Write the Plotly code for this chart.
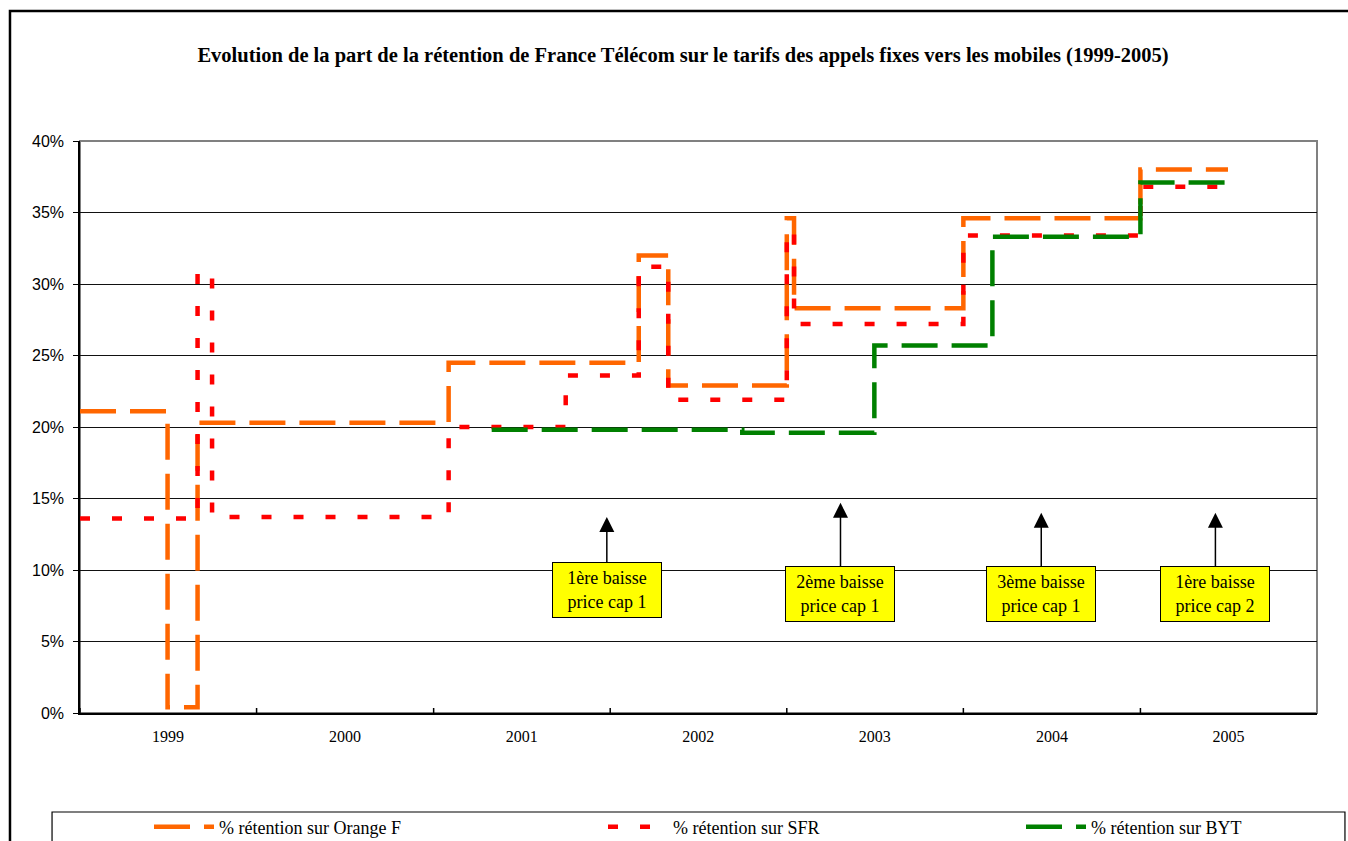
import plotly.graph_objects as go

# ---------------- data ----------------
orange_dates = ["1999-01-01", "1999-07-01", "1999-09-01", "2001-02-01", "2002-03-01",
                "2002-05-01", "2003-01-01", "2003-01-16", "2004-01-01", "2005-01-01", "2005-07-01"]
orange_vals = [21.1, 0.4, 20.3, 24.5, 32.0, 22.9, 34.6, 28.3, 34.6, 38.0, 38.0]

sfr_dates = ["1999-01-01", "1999-09-01", "1999-10-01", "2001-02-01", "2001-10-01", "2002-03-01",
             "2002-05-01", "2003-01-01", "2003-01-16", "2004-01-01", "2005-01-01", "2005-07-01"]
sfr_vals = [13.6, 30.8, 13.7, 20.0, 23.6, 31.2, 21.9, 33.7, 27.2, 33.4, 36.8, 36.8]

byt_dates = ["2001-05-01", "2002-10-01", "2003-07-01", "2004-03-01", "2005-01-01", "2005-07-01"]
byt_vals = [19.8, 19.6, 25.7, 33.3, 37.1, 37.1]

years = [1999, 2000, 2001, 2002, 2003, 2004, 2005]
y_ticks = [0, 5, 10, 15, 20, 25, 30, 35, 40]
y_ticktext = ["0%", "5%", "10%", "15%", "20%", "25%", "30%", "35%", "40%"]

ann_texts = ["1ère baisse<br>price cap 1", "2ème baisse<br>price cap 1",
             "3ème baisse<br>price cap 1", "1ère baisse<br>price cap 2"]
ann_dates = ["2001-12-25", "2003-04-22", "2004-06-10", "2005-06-05"]
ann_tip = [13.7, 14.7, 14.0, 14.0]
ann_ay = [73, 91, 81, 81]

SERIF = "Times New Roman, Liberation Serif, serif"
SANS = "Arial, Liberation Sans, sans-serif"

W, H = 1348, 841

fig = go.Figure()
fig.add_trace(go.Scatter(x=orange_dates, y=orange_vals, mode="lines", line_shape="hv",
                         name="% rétention sur Orange F", legend="legend",
                         line=dict(color="#FF6600", width=4.5, dash="36px,14px")))
fig.add_trace(go.Scatter(x=sfr_dates, y=sfr_vals, mode="lines", line_shape="hv",
                         name="% rétention sur SFR", legend="legend2",
                         line=dict(color="#FF0000", width=4.5, dash="10px,22px")))
fig.add_trace(go.Scatter(x=byt_dates, y=byt_vals, mode="lines", line_shape="hv",
                         name="% rétention sur BYT", legend="legend3",
                         line=dict(color="#008000", width=4.5, dash="36px,14px")))

shapes = []
# chart area border
shapes.append(dict(type="rect", xref="paper", yref="paper", x0=-0.0566, x1=1.2,
                   y0=-0.30, y1=1.2273, line=dict(color="black", width=2.5), layer="below"))
# legend box
shapes.append(dict(type="rect", xref="paper", yref="paper", x0=-0.0226, x1=1.0226,
                   y0=-0.30, y1=-0.1731, line=dict(color="black", width=1.2), layer="below"))
# plot area border (gray)
shapes.append(dict(type="rect", xref="paper", yref="paper", x0=0, x1=1, y0=0, y1=1,
                   line=dict(color="#808080", width=2), layer="below"))
# cross tick marks at year boundaries
for yv in years:
    shapes.append(dict(type="line", xref="x", yref="y", x0=f"{yv}-01-01", x1=f"{yv}-01-01",
                       ysizemode="pixel", yanchor=0, y0=-5, y1=5,
                       line=dict(color="black", width=1.5)))

annotations = []
for t, d, tip, ay in zip(ann_texts, ann_dates, ann_tip, ann_ay):
    annotations.append(dict(x=d, y=tip, xref="x", yref="y", text=t, showarrow=True,
                            ax=0, ay=ay, arrowhead=2, arrowsize=2.0, arrowwidth=1.5,
                            arrowcolor="black", bgcolor="#FFFF00", bordercolor="black",
                            borderwidth=1, borderpad=2, width=104, height=50,
                            font=dict(family=SERIF, size=18, color="black"), align="center"))

leg_common = dict(orientation="h", xanchor="left", yref="container",
                  y=1 - 827 / H, yanchor="middle",
                  itemwidth=60, bgcolor="rgba(0,0,0,0)",
                  font=dict(family=SERIF, size=18, color="black"))

fig.update_layout(
    width=W, height=H,
    margin=dict(l=80, r=31, t=141, b=128, autoexpand=False),
    paper_bgcolor="white", plot_bgcolor="white",
    title=dict(text="<b>Evolution de la part de la rétention de France Télécom sur le tarifs des appels fixes vers les mobiles (1999-2005)</b>",
               x=683 / W, xref="container", xanchor="center",
               y=1 - 55 / H, yref="container", yanchor="middle",
               font=dict(family=SERIF, size=20.5, color="black")),
    xaxis=dict(type="date", range=["1999-01-01", "2006-01-01"],
               tickvals=[f"{y}-07-02" for y in years], ticktext=[str(y) for y in years],
               ticks="", ticklabelstandoff=8, showgrid=False, zeroline=False,
               showline=True, linecolor="black", linewidth=2,
               tickfont=dict(family=SERIF, size=16, color="black")),
    yaxis=dict(range=[0, 40], tickvals=y_ticks, ticktext=y_ticktext,
               ticks="outside", ticklen=5, tickcolor="black", ticklabelstandoff=6,
               showgrid=True, gridcolor="#111111", gridwidth=1, zeroline=False,
               showline=True, linecolor="black", linewidth=1.5,
               tickfont=dict(family=SANS, size=16, color="black")),
    legend=dict(x=(154 - 5 - 80) / 1237, **leg_common),
    legend2=dict(x=(608 - 5 - 80) / 1237, **leg_common),
    legend3=dict(x=(1026 - 5 - 80) / 1237, **leg_common),
    shapes=shapes,
    annotations=annotations,
    showlegend=True,
)

fig.write_html("out.html", config={"displayModeBar": False},
               post_script="document.body.style.margin='0';document.body.style.overflow='hidden';")
